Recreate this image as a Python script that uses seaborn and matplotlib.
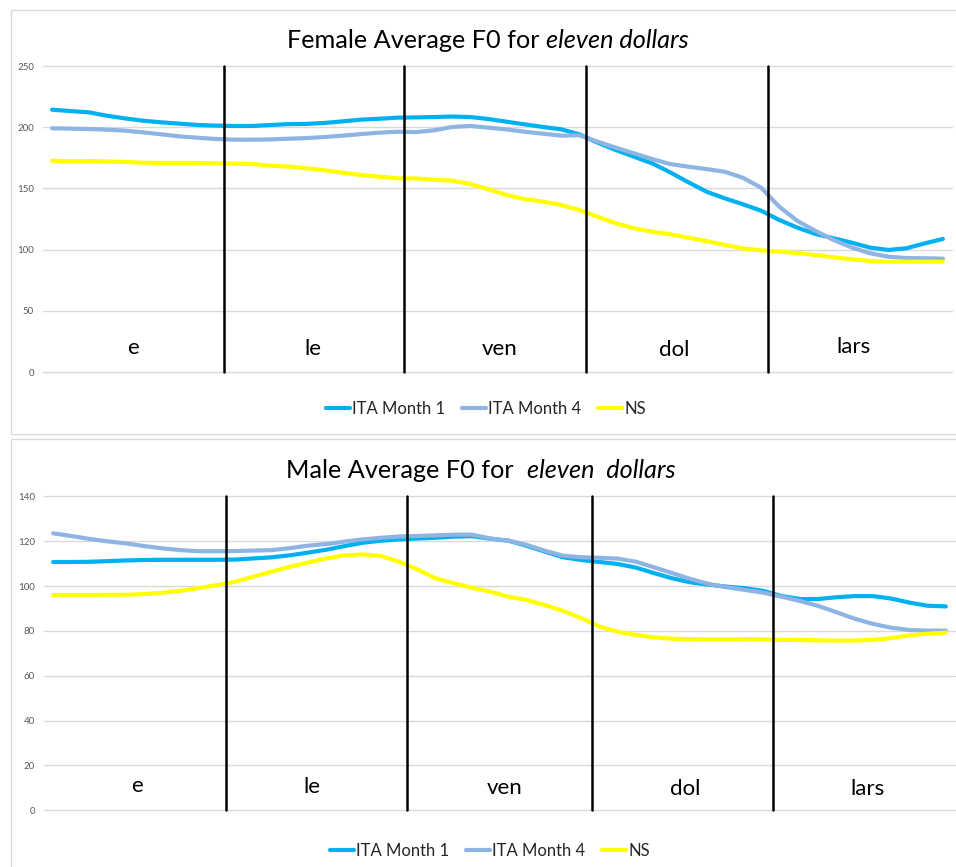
import numpy as np
import pandas as pd
import matplotlib
matplotlib.use("Agg")
import matplotlib.pyplot as plt
import seaborn as sns
from matplotlib.lines import Line2D
from matplotlib.patches import Rectangle

# ---------------- data ----------------
series_names = ["ITA Month 1", "ITA Month 4", "NS"]
syllables = ["e", "le", "ven", "dol", "lars"]

female_ita1 = [214.3, 213.2, 212.2, 209.4, 207.2, 205.3, 204.0, 202.9, 201.8, 201.3,
               201.0, 201.0, 201.8, 202.5, 202.7, 203.5, 204.8, 206.2, 206.9, 207.8,
               208.0, 208.3, 208.7, 208.3, 206.7, 204.5, 202.3, 200.2, 198.3, 194.2,
               187.4, 181.4, 175.9, 170.5, 163.1, 155.0, 147.3, 141.9, 137.0, 131.8,
               124.2, 117.9, 112.7, 109.2, 105.6, 101.6, 99.7, 101.1, 105.1, 108.7]
female_ita4 = [199.1, 198.8, 198.5, 198.0, 197.2, 195.8, 194.2, 192.5, 191.4, 190.4,
               189.8, 189.8, 190.0, 190.6, 191.1, 192.0, 193.1, 194.4, 195.5, 196.3,
               196.0, 197.4, 200.2, 201.0, 199.6, 198.2, 196.3, 194.7, 193.1, 193.4,
               188.2, 183.3, 178.7, 174.0, 169.9, 167.7, 165.8, 163.6, 158.7, 150.6,
               135.0, 123.4, 115.2, 107.8, 101.6, 97.0, 94.2, 93.1, 92.9, 92.6]
female_ns = [172.6, 172.3, 172.3, 172.0, 171.6, 171.0, 170.8, 170.8, 170.8, 170.5,
             170.2, 169.9, 168.6, 167.8, 166.4, 164.8, 162.8, 160.9, 159.6, 158.2,
             158.2, 157.1, 156.3, 153.6, 149.3, 144.6, 141.3, 139.2, 136.4, 132.4,
             126.9, 121.5, 117.4, 114.6, 112.5, 109.7, 107.0, 103.8, 101.0, 99.4,
             98.3, 97.2, 95.6, 93.7, 92.1, 90.7, 90.1, 90.1, 90.1, 90.1]

male_ita1 = [110.7, 110.7, 110.8, 111.1, 111.4, 111.6, 111.7, 111.7, 111.7, 111.7,
             111.8, 112.3, 112.8, 113.7, 114.9, 116.2, 117.8, 119.3, 120.2, 120.8,
             121.2, 121.5, 122.0, 122.2, 121.1, 120.2, 117.9, 115.3, 112.8, 111.6,
             110.7, 109.8, 108.2, 105.7, 103.4, 101.6, 100.6, 99.7, 99.0, 97.8,
             95.5, 94.2, 94.2, 95.0, 95.5, 95.5, 94.4, 92.6, 91.2, 90.9]
male_ita4 = [123.5, 122.3, 121.0, 119.9, 119.0, 117.8, 116.8, 116.0, 115.5, 115.5,
             115.6, 115.8, 116.0, 116.9, 118.0, 118.7, 119.8, 120.8, 121.5, 122.1,
             122.3, 122.6, 122.9, 122.9, 121.2, 120.2, 118.3, 115.7, 113.5, 112.8,
             112.6, 112.2, 110.8, 108.3, 105.7, 103.1, 100.9, 99.4, 98.2, 97.0,
             95.2, 93.3, 91.1, 88.3, 85.4, 83.1, 81.4, 80.4, 80.1, 80.1]
male_ns = [96.0, 96.0, 96.0, 96.1, 96.1, 96.4, 97.0, 97.9, 99.1, 100.4,
           101.9, 104.2, 106.4, 108.6, 110.5, 112.3, 113.7, 114.1, 113.4, 110.8,
           107.4, 103.4, 101.2, 99.2, 97.5, 95.2, 93.8, 91.5, 88.9, 85.6,
           81.9, 79.6, 78.2, 77.1, 76.5, 76.3, 76.2, 76.2, 76.3, 76.2,
           76.0, 75.9, 75.8, 75.7, 75.7, 76.0, 76.8, 78.0, 78.7, 79.2]

female_yticks = [0, 50, 100, 150, 200, 250]
male_yticks = [0, 20, 40, 60, 80, 100, 120, 140]

# ---------------- styling ----------------
colors = ["#00B0F0", "#8EB4E3", "#FFFF00"]
FONT = ["Lato", "DejaVu Sans"]

sns.set_theme(style="white")
plt.rcParams["font.family"] = FONT

W, H = 956, 867
fig = plt.figure(figsize=(W / 100, H / 100), dpi=100)
fig.patch.set_facecolor("white")


def fx(px):
    return px / W


def fy(py):
    return 1 - py / H


# panel borders
fig.add_artist(Rectangle((fx(10.5), fy(433.5)), fx(960) - fx(10.5), fy(10.5) - fy(433.5),
                         transform=fig.transFigure, fill=False, ec="#D9D9D9", lw=1.0))
fig.add_artist(Rectangle((fx(10.5), fy(880)), fx(960) - fx(10.5), fy(438.5) - fy(880),
                         transform=fig.transFigure, fill=False, ec="#D9D9D9", lw=1.0))


def make_df(a, b, c):
    n = len(a)
    return pd.DataFrame({
        "t": list(range(n)) * 3,
        "F0": list(a) + list(b) + list(c),
        "series": [series_names[0]] * n + [series_names[1]] * n + [series_names[2]] * n,
    })


panels = [
    dict(df=make_df(female_ita1, female_ita4, female_ns), box=(43, 952, 66, 372),
         ymax=250, yticks=female_yticks,
         vlines=[9.46, 19.36, 29.37, 39.38],
         labx=[4.45, 14.35, 24.6, 34.2, 44.1], laby=[14.7, 13.9, 13.9, 12.9, 15.6],
         title_parts=("Female Average F0 for ", "eleven dollars"), title_xy=(287, 48.5),
         legend_xy=(486, 409)),
    dict(df=make_df(male_ita1, male_ita4, male_ns), box=(44, 955, 496.3, 810.3),
         ymax=140, yticks=male_yticks,
         vlines=[9.5, 19.43, 29.58, 39.51],
         labx=[4.6, 14.2, 24.8, 34.7, 44.7], laby=[8.0, 7.8, 7.1, 6.7, 6.7],
         title_parts=("Male Average F0 for  ", "eleven  dollars"), title_xy=(286, 478),
         legend_xy=(490, 851)),
]

for p in panels:
    l, r, t, b = p["box"]
    ax = fig.add_axes([fx(l), fy(b), fx(r) - fx(l), fy(t) - fy(b)])
    ax.set_facecolor("none")
    sns.lineplot(data=p["df"], x="t", y="F0", hue="series", palette=colors,
                 hue_order=series_names, linewidth=3.0, legend=False, ax=ax,
                 sort=False, estimator=None, zorder=3)
    n = p["df"]["t"].nunique()
    ax.set_xlim(-0.5, n - 0.5)
    ax.set_ylim(0, p["ymax"])
    ax.set_yticks(p["yticks"])
    ax.set_yticklabels([str(v) for v in p["yticks"]])
    ax.set_xticks([])
    ax.set_xlabel("")
    ax.set_ylabel("")
    for s in ax.spines.values():
        s.set_visible(False)
    ax.tick_params(axis="y", length=0, pad=6.5, labelsize=7, labelcolor="#595959")
    for v in p["yticks"]:
        ax.axhline(v, color="#D9D9D9", lw=1.0, zorder=1, clip_on=False)
    for xv in p["vlines"]:
        ax.axvline(xv, color="black", lw=1.8, zorder=5, clip_on=False)
    for s, xv, yv in zip(syllables, p["labx"], p["laby"]):
        ax.text(xv, yv, s, ha="center", va="baseline", fontsize=16, color="black")

    # title: regular + italic pieces
    tx, ty = p["title_xy"]
    t1 = fig.text(fx(tx), fy(ty), p["title_parts"][0], ha="left", va="baseline",
                  fontsize=18.2, color="black")
    ax.annotate(p["title_parts"][1], xy=(1, 0), xycoords=t1, ha="left", va="bottom",
                fontsize=18.2, style="italic", color="black", annotation_clip=False)

    handles = [Line2D([0], [0], color=c, lw=3.0) for c in colors]
    lx, ly = p["legend_xy"]
    fig.legend(handles, series_names, loc="center", bbox_to_anchor=(fx(lx), fy(ly)),
               ncol=3, frameon=False, fontsize=12, handlelength=1.45,
               handletextpad=0.12, columnspacing=1.0, labelcolor="#262626",
               borderaxespad=0, borderpad=0)

fig.savefig("out.png", dpi=100, facecolor="white")
